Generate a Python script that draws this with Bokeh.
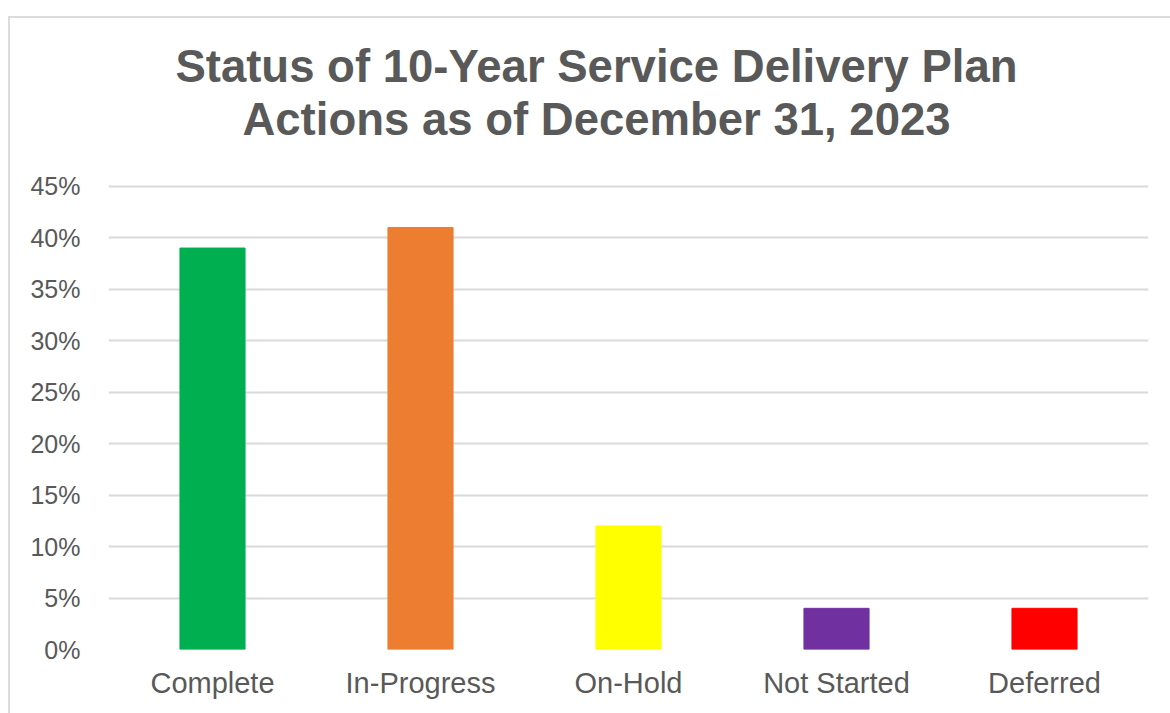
from bokeh.plotting import figure
from bokeh.models import FixedTicker, PrintfTickFormatter, Range1d, ColumnDataSource
from bokeh.core.properties import value
from bokeh.embed import file_html
from bokeh.resources import INLINE

categories = ["Complete", "In-Progress", "On-Hold", "Not Started", "Deferred"]
percent = [39, 41, 12, 4, 4]
colors = ["#00B050", "#ED7D31", "#FFFF00", "#7030A0", "#FF0000"]
y_ticks = [0, 5, 10, 15, 20, 25, 30, 35, 40, 45]
title_lines = ["Status of 10-Year Service Delivery Plan", "Actions as of December 31, 2023"]

src = ColumnDataSource(dict(cat=categories, val=percent, color=colors))

# the frame reaches up to the top of the canvas so the two centred title lines can be drawn in it
p = figure(x_range=categories, y_range=Range1d(0, 61.3), width=1162, height=697,
           output_backend="svg", toolbar_location=None,
           min_border_left=98, min_border_right=24, min_border_top=0, min_border_bottom=66)
p.x_range.range_padding = 0

p.vbar(x="cat", top="val", width=0.313, color="color", source=src)

# title: two centred lines above the 45% gridline
tsrc = ColumnDataSource(dict(x=[categories[2]] * 2, y=[y_ticks[-1]] * 2, t=title_lines, dy=[-120, -67]))
p.text(x="x", y="y", text="t", y_offset="dy", x_offset=-32, source=tsrc,
       text_align="center", text_baseline="alphabetic",
       text_font=value("Liberation Sans"), text_font_size="45.5px",
       text_font_style="bold", text_color="#595959")

p.outline_line_color = None
p.xgrid.grid_line_color = None
p.ygrid.grid_line_color = "#d9d9d9"
p.ygrid.grid_line_width = 2
p.yaxis.ticker = FixedTicker(ticks=y_ticks)
p.yaxis.formatter = PrintfTickFormatter(format="%d%%")
for ax in (p.xaxis[0], p.yaxis[0]):
    ax.axis_line_color = None
    ax.major_tick_line_color = None
    ax.minor_tick_line_color = None
    ax.major_label_text_color = "#595959"
    ax.major_label_text_font = "Liberation Sans"
p.yaxis.major_label_text_font_size = "25px"
p.yaxis.major_label_standoff = 22
p.xaxis.major_label_text_font_size = "29px"
p.xaxis.major_label_standoff = 11

p.margin = (16, 0, 0, 8)
p.styles = {"border-top": "2px solid #dcdcdc", "border-left": "2px solid #dcdcdc"}

open("out.html", "w").write(file_html(p, INLINE))
